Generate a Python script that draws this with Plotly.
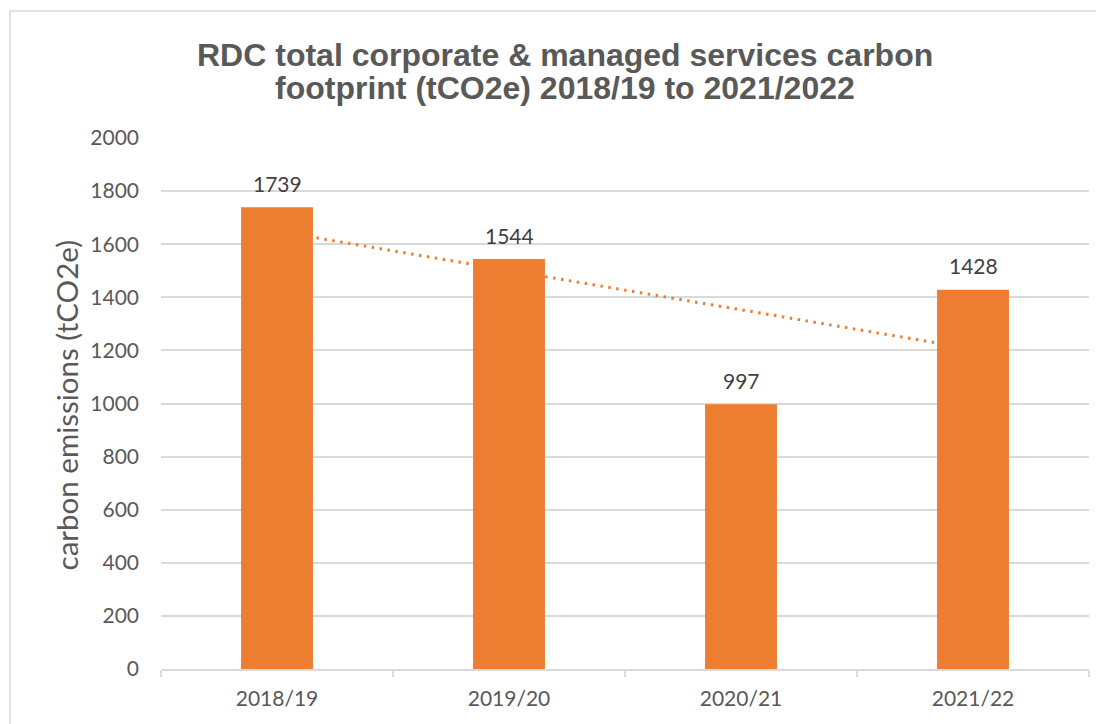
import numpy as np
import plotly.graph_objects as go

categories = ["2018/19", "2019/20", "2020/21", "2021/22"]
emissions = [1739, 1544, 997, 1428]
y_ticks = [0, 200, 400, 600, 800, 1000, 1200, 1400, 1600, 1800, 2000]
title_lines = ["RDC total corporate &amp; managed services carbon",
               "footprint (tCO2e) 2018/19 to 2021/2022"]
y_title = "carbon emissions (tCO2e)"

ORANGE = "#ED7D31"
GRID = "#D9D9D9"
TXT = "#595959"
FONT = "Lato"

# linear trendline (least squares), like Excel's linear trendline
xi = np.arange(1, len(emissions) + 1)
slope, intercept = np.polyfit(xi, emissions, 1)
trend = [slope * xi[0] + intercept, slope * xi[-1] + intercept]

fig = go.Figure()
fig.add_trace(go.Scatter(
    x=[categories[0], categories[-1]], y=trend, mode="lines",
    line=dict(color=ORANGE, width=3, dash="2.5px,5.5px"),
    hoverinfo="skip", showlegend=False,
))
fig.add_trace(go.Bar(
    x=categories, y=emissions, marker=dict(color=ORANGE, line=dict(width=0)),
    width=0.31, showlegend=False,
))

for c, v in zip(categories, emissions):
    fig.add_annotation(x=c, y=v, text=str(v), showarrow=False, yshift=24,
                       font=dict(family=FONT, size=21, color="#404040"))

for i, (line, ypx) in enumerate(zip(title_lines, [55, 88])):
    fig.add_annotation(
        xref="paper", yref="paper", x=0.435, y=(669 - ypx) / 531,
        text=f"<b>{line}</b>", showarrow=False, xanchor="center", yanchor="middle",
        font=dict(family="Liberation Sans", size=32, color=TXT),
    )
fig.add_annotation(
    xref="paper", yref="paper", x=-0.102, y=0.497, textangle=-90,
    text=y_title, showarrow=False, xanchor="center", yanchor="middle",
    font=dict(family=FONT, size=29.5, color=TXT),
)

fig.add_shape(type="rect", xref="paper", yref="paper",
              x0=-0.1627, x1=1.1, y0=-0.2, y1=1.239,
              line=dict(color=GRID, width=1.5), layer="below")

fig.update_layout(
    width=1096, height=716,
    margin=dict(l=153, r=15, t=130, b=55),
    paper_bgcolor="white", plot_bgcolor="white",
    font=dict(family=FONT, color=TXT),
    xaxis=dict(type="category", categoryorder="array", categoryarray=categories,
               showgrid=False, showline=True, linecolor=GRID,
               linewidth=1.5, ticks="outside", tickson="boundaries", ticklen=6,
               tickcolor=GRID, tickwidth=1.5, ticklabelstandoff=10,
               tickfont=dict(family=FONT, size=21, color=TXT)),
    yaxis=dict(range=[0, 2000], tickvals=y_ticks, showgrid=True, gridcolor=GRID,
               gridwidth=1.5, zeroline=False, showline=False, ticks="",
               ticklabelstandoff=21,
               tickfont=dict(family=FONT, size=21, color=TXT)),
)

fig.write_html("out.html")
